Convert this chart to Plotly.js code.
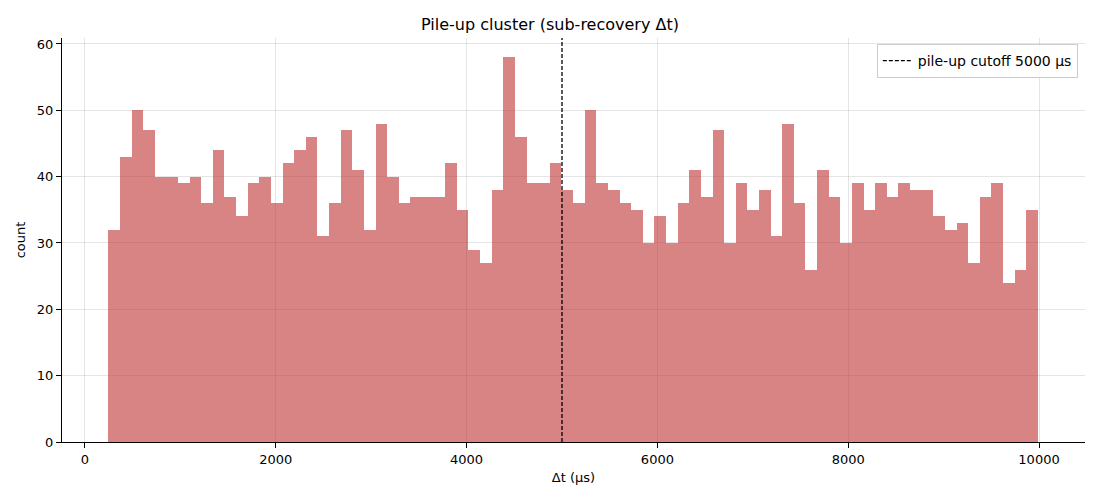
<!DOCTYPE html>
<html>
<head>
<meta charset="utf-8">
<script src="https://cdn.plot.ly/plotly-3.0.1.min.js"></script>
<style>
  html, body { margin: 0; padding: 0; background: #fff; }
  #chart { width: 1100px; height: 500px; }
</style>
</head>
<body>
<div id="chart"></div>
<script>
// histogram bins: first edge, width, counts per bin
var binStart = 244;
var binWidth = 121.8;
var counts = [
  32, 43, 50, 47, 40, 40, 39, 40, 36, 44,
  37, 34, 39, 40, 36, 42, 44, 46, 31, 36,
  47, 41, 32, 48, 40, 36, 37, 37, 37, 42,
  35, 29, 27, 38, 58, 46, 39, 39, 42, 38,
  36, 50, 39, 38, 36, 35, 30, 34, 30, 36,
  41, 37, 47, 30, 39, 35, 38, 31, 48, 36,
  26, 41, 37, 30, 39, 35, 39, 37, 39, 38,
  38, 34, 32, 33, 27, 37, 39, 24, 26, 35
];
var cutoff = 5000;
var cutoffLabel = 'pile-up cutoff 5000 μs';

var centers = [];
for (var i = 0; i < counts.length; i++) {
  centers.push(binStart + binWidth * (i + 0.5));
}

var histTrace = {
  x: centers,
  y: counts,
  width: binWidth,
  type: 'bar',
  marker: { color: 'rgba(190,50,52,0.6)', line: { width: 0 } },
  showlegend: false,
  hoverinfo: 'x+y'
};

var cutoffTrace = {
  x: [cutoff, cutoff],
  y: [0, 61],
  mode: 'lines',
  type: 'scatter',
  name: cutoffLabel,
  line: { color: '#000', width: 1.3, dash: '4px,2px' }
};

var layout = {
  width: 1100,
  height: 500,
  margin: { l: 62, r: 15, t: 38, b: 58 },
  paper_bgcolor: '#fff',
  plot_bgcolor: '#fff',
  font: { family: 'DejaVu Sans', size: 13, color: '#000' },
  title: { text: 'Pile-up cluster (sub-recovery Δt)', font: { size: 16 }, x: 0.5, xanchor: 'center', y: 0.952, yanchor: 'middle' },
  bargap: 0,
  xaxis: {
    range: [-241, 10482],
    tickvals: [0, 2000, 4000, 6000, 8000, 10000],
    ticktext: ['0', '2000', '4000', '6000', '8000', '10000'],
    showgrid: true, gridcolor: 'rgba(0,0,0,0.1)', gridwidth: 1,
    zeroline: false,
    showline: true, linecolor: '#000', linewidth: 1,
    ticks: 'outside', ticklen: 5, tickcolor: '#000',
    title: { text: 'Δt (μs)', font: { size: 13 }, standoff: 7 }
  },
  yaxis: {
    range: [0, 60.9],
    tickvals: [0, 10, 20, 30, 40, 50, 60],
    showgrid: true, gridcolor: 'rgba(0,0,0,0.1)', gridwidth: 1,
    zeroline: false,
    showline: true, linecolor: '#000', linewidth: 1,
    ticks: 'outside', ticklen: 5, tickcolor: '#000',
    title: { text: 'count', font: { size: 13 }, standoff: 8 }
  },
  legend: {
    x: 0.993, y: 0.985, xanchor: 'right', yanchor: 'top',
    bgcolor: 'rgba(255,255,255,0.8)', bordercolor: '#ccc', borderwidth: 1,
    font: { size: 14 }, tracegroupgap: 0
  },
  showlegend: true
};

Plotly.newPlot('chart', [histTrace, cutoffTrace], layout, { displayModeBar: false, staticPlot: true });
</script>
</body>
</html>
